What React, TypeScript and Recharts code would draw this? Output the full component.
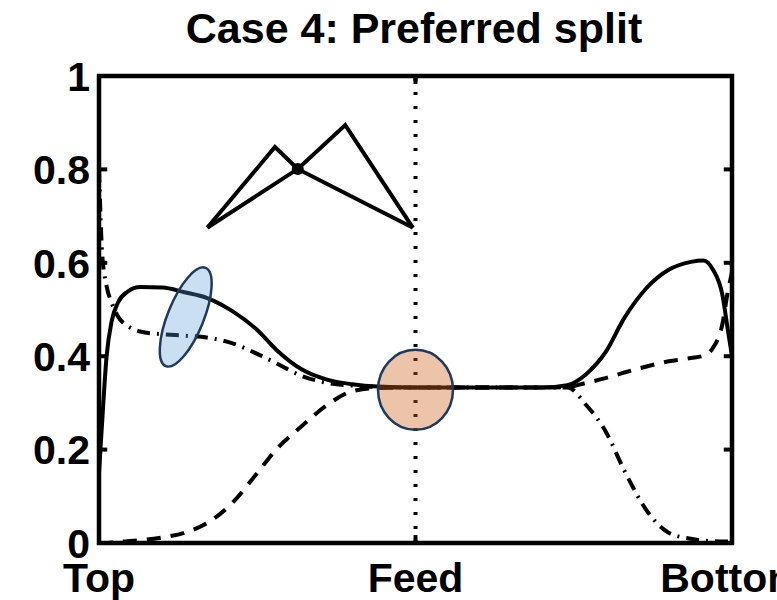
import React from 'react';
import {
    ComposedChart, Line, XAxis, YAxis, ReferenceLine, ReferenceArea, ReferenceDot
} from 'recharts';

// --- composition profiles along the column (0 = top, 1 = bottom) ---
const stagePos = [0, 0.005, 0.012, 0.02, 0.03, 0.045, 0.065, 0.1, 0.135, 0.17, 0.21, 0.25, 0.28, 0.32, 0.36, 0.4, 0.44, 0.5, 0.6, 0.7, 0.74, 0.77, 0.8, 0.83, 0.865, 0.9, 0.935, 0.955, 0.97, 0.985, 0.993, 1];
const solidProfile = [0.15, 0.26, 0.4, 0.475, 0.515, 0.538, 0.548, 0.547, 0.537, 0.525, 0.497, 0.456, 0.414, 0.372, 0.35, 0.34, 0.335, 0.333, 0.333, 0.333, 0.338, 0.362, 0.408, 0.482, 0.546, 0.585, 0.602, 0.605, 0.585, 0.53, 0.46, 0.4];
const dashedProfile = [0, 0, 0, 0.001, 0.002, 0.004, 0.006, 0.012, 0.022, 0.042, 0.085, 0.15, 0.2, 0.25, 0.295, 0.325, 0.332, 0.333, 0.333, 0.333, 0.334, 0.343, 0.353, 0.365, 0.378, 0.389, 0.396, 0.401, 0.418, 0.47, 0.535, 0.58];
const dashDotProfile = [0.8, 0.62, 0.55, 0.515, 0.485, 0.465, 0.453, 0.447, 0.444, 0.44, 0.428, 0.405, 0.385, 0.358, 0.343, 0.337, 0.334, 0.333, 0.333, 0.333, 0.333, 0.295, 0.24, 0.155, 0.07, 0.022, 0.009, 0.005, 0.004, 0.003, 0.003, 0.003];

// --- column sketch (x, y in chart units) ---
const sketchOuter = [[0.171, 0.675], [0.278, 0.848], [0.314, 0.801], [0.389, 0.895], [0.496, 0.675]];
const sketchInner = [[0.171, 0.675], [0.314, 0.801], [0.496, 0.675]];
const sketchJoint = [0.314, 0.801];

// --- highlighted regions ---
const topRegion = [0.137, 0.484];
const feedRegion = [0.5, 0.328];

const xTicks = [0, 0.5, 1];
const xLabels = ['Top', 'Feed', 'Bottom'];
const yTicks = [0, 0.2, 0.4, 0.6, 0.8, 1];
const innerTicks = [0.2, 0.4, 0.6, 0.8];

const rows = stagePos.map((x, i) => ({
    x,
    solid: solidProfile[i],
    dashed: dashedProfile[i],
    dashdot: dashDotProfile[i],
}));
const toPts = (pts: number[][]) => pts.map(([x, y]) => ({ x, y }));

const FONT = '"Liberation Sans", Arial, sans-serif';
const LW = 4;

const XTick = (props: any) => {
    const { x, y, payload } = props;
    const i = xTicks.indexOf(payload.value);
    return (
        <text x={x} y={y} dy="0.71em" textAnchor="middle" fontFamily={FONT} fontWeight="bold" fontSize={41} fill="#000">
            {xLabels[i]}
        </text>
    );
};

const YTick = (props: any) => {
    const { x, y, payload } = props;
    return (
        <text x={x} y={y} dy="0.36em" textAnchor="end" fontFamily={FONT} fontWeight="bold" fontSize={41} fill="#000">
            {payload.value}
        </text>
    );
};

const TopEllipse = (props: any) => (
    <ellipse cx={props.cx} cy={props.cy} rx={18} ry={53} transform={`rotate(22 ${props.cx} ${props.cy})`}
        fill="#5B9BD5" fillOpacity={0.32} stroke="#1F3A5A" strokeWidth={2.5} />
);

const FeedCircle = (props: any) => (
    <ellipse cx={props.cx} cy={props.cy} rx={37.5} ry={40}
        fill="#CC6420" fillOpacity={0.38} stroke="#1F3A5A" strokeWidth={2.5} />
);

export default function App() {
    return (
        <div style={{ position: 'absolute', left: 0, top: 0, width: 777, height: 600, background: '#fff', overflow: 'hidden' }}>
            <div style={{
                position: 'absolute', left: 0, top: 8, width: 828, textAlign: 'center',
                fontFamily: FONT, fontWeight: 'bold', fontSize: 43, lineHeight: '40px', color: '#000',
            }}>
                Case 4: Preferred split
            </div>
            <ComposedChart width={777} height={600} data={rows} margin={{ top: 76, right: 45, bottom: 0, left: 0 }}>
                <XAxis dataKey="x" type="number" domain={[0, 1]} ticks={xTicks} height={57}
                    axisLine={false} tickLine={false} tickSize={0} tickMargin={20} tick={<XTick />} interval={0} />
                <YAxis type="number" domain={[0, 1]} ticks={yTicks} width={99}
                    axisLine={false} tickLine={false} tickSize={0} tickMargin={9} tick={<YTick />} interval={0} />

                <ReferenceLine x={0.5} stroke="#000" strokeWidth={4} strokeDasharray="3 11" />

                <Line dataKey="dashed" type="monotone" stroke="#000" strokeWidth={LW} strokeDasharray="14 10" dot={false} isAnimationActive={false} />
                <Line dataKey="dashdot" type="monotone" stroke="#000" strokeWidth={LW} strokeDasharray="13 7 2 7" dot={false} isAnimationActive={false} />
                <Line dataKey="solid" type="monotone" stroke="#000" strokeWidth={LW} dot={false} isAnimationActive={false} />

                <Line data={toPts(sketchOuter)} dataKey="y" type="linear" stroke="#000" strokeWidth={LW} dot={false} isAnimationActive={false} />
                <Line data={toPts(sketchInner)} dataKey="y" type="linear" stroke="#000" strokeWidth={LW} dot={false} isAnimationActive={false} />
                <ReferenceDot x={sketchJoint[0]} y={sketchJoint[1]} r={6} fill="#000" stroke="none" />

                {/* frame and inward ticks */}
                <ReferenceArea x1={0} x2={1} y1={0} y2={1} fill="none" fillOpacity={0} stroke="#000" strokeWidth={4.5} />
                {innerTicks.map(v => (
                    <ReferenceLine key={`l${v}`} segment={[{ x: 0, y: v }, { x: 0.013, y: v }]} stroke="#000" strokeWidth={4} />
                ))}
                {innerTicks.map(v => (
                    <ReferenceLine key={`r${v}`} segment={[{ x: 0.987, y: v }, { x: 1, y: v }]} stroke="#000" strokeWidth={4} />
                ))}
                <ReferenceLine segment={[{ x: 0.5, y: 0 }, { x: 0.5, y: 0.017 }]} stroke="#000" strokeWidth={4} />
                <ReferenceLine segment={[{ x: 0.5, y: 0.983 }, { x: 0.5, y: 1 }]} stroke="#000" strokeWidth={4} />

                <ReferenceDot x={topRegion[0]} y={topRegion[1]} shape={<TopEllipse />} />
                <ReferenceDot x={feedRegion[0]} y={feedRegion[1]} shape={<FeedCircle />} />
            </ComposedChart>
        </div>
    );
}
